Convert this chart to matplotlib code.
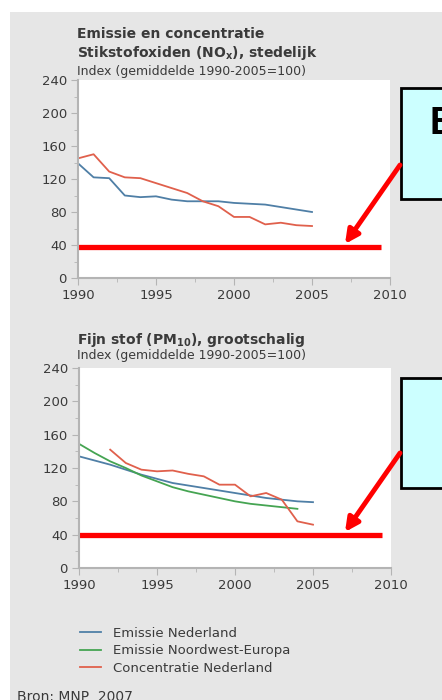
import numpy as np
import matplotlib.pyplot as plt
from matplotlib.patches import Rectangle, FancyArrowPatch
from matplotlib.ticker import MultipleLocator

plt.rcParams['font.family'] = ['DejaVu Sans']

W, H = 442, 700

# NOx, urban (index, 1990-2005 average = 100)
nox_years = np.arange(1990, 2006)
nox_emission_nl = [139, 122, 121, 100, 98, 99, 95, 93, 93, 93, 91, 90, 89, 86, 83, 80]
nox_conc_nl = [145, 150, 129, 122, 121, 115, 109, 103, 93, 87, 74, 74, 65, 67, 64, 63]

# PM10, large scale
pm_years_nl = np.arange(1990, 2006)
pm_emission_nl = [134, 129, 124, 118, 112, 107, 102, 99, 96, 93, 90, 87, 84, 82, 80, 79]
pm_years_nwe = np.arange(1990, 2005)
pm_emission_nwe = [149, 138, 128, 120, 111, 104, 97, 92, 88, 84, 80, 77, 75, 73, 71]
pm_years_conc = np.arange(1992, 2006)
pm_conc_nl = [142, 126, 118, 116, 117, 113, 110, 100, 100, 86, 90, 82, 56, 52]

legend_labels = ['Emissie Nederland', 'Emissie Noordwest-Europa', 'Concentratie Nederland']
c_blue, c_green, c_red = '#4f7fa6', '#45a452', '#e0604c'
txt = '#3a3a3a'


def fx(px):
    return px / W


def fy(py):
    return 1 - py / H


def make_axes(left, top, right, bottom):
    ax = fig.add_axes([fx(left), fy(bottom), fx(right - left), (bottom - top) / H])
    ax.set_xlim(1990, 2010)
    ax.set_ylim(0, 240)
    ax.xaxis.set_major_locator(MultipleLocator(5))
    ax.xaxis.set_minor_locator(MultipleLocator(2.5))
    ax.yaxis.set_major_locator(MultipleLocator(40))
    ax.yaxis.set_minor_locator(MultipleLocator(20))
    for s in ['top', 'right']:
        ax.spines[s].set_visible(False)
    for s in ['left', 'bottom']:
        ax.spines[s].set_color('#b4b4b4')
        ax.spines[s].set_linewidth(1.5)
    ax.tick_params(which='both', direction='out', color='#b4b4b4', labelsize=9.5,
                   labelcolor=txt)
    ax.tick_params(which='major', length=5, pad=3)
    ax.tick_params(which='minor', length=3)
    ax.set_facecolor('white')
    return ax


fig = plt.figure(figsize=(W / 100, H / 100), dpi=100)
fig.patch.set_facecolor('white')
fig.add_artist(Rectangle((fx(10), 0), fx(W - 10), 1 - 12 / H, transform=fig.transFigure,
                         facecolor='#e6e6e6', edgecolor='none', zorder=0))

# top chart
ax1 = make_axes(78, 80, 390, 278)
ax1.plot(nox_years, nox_emission_nl, color=c_blue, lw=1.3)
ax1.plot(nox_years, nox_conc_nl, color=c_red, lw=1.3)
ax1.hlines(37, 1990, 2009.4, color='#ff0000', lw=3.8)

fig.text(fx(77), fy(34), 'Emissie en concentratie', fontsize=10, fontweight='bold',
         color=txt, va='center')
fig.text(fx(77), fy(53), 'Stikstofoxiden (NO$_\\mathbf{x}$), stedelijk', fontsize=10,
         fontweight='bold', color=txt, va='center')
fig.text(fx(77), fy(72), 'Index (gemiddelde 1990-2005=100)', fontsize=9, color=txt,
         va='center')

# bottom chart
ax2 = make_axes(79, 368, 391, 568)
l1, = ax2.plot(pm_years_nl, pm_emission_nl, color=c_blue, lw=1.3)
l2, = ax2.plot(pm_years_nwe, pm_emission_nwe, color=c_green, lw=1.3)
l3, = ax2.plot(pm_years_conc, pm_conc_nl, color=c_red, lw=1.3)
ax2.hlines(40, 1990, 2009.4, color='#ff0000', lw=3.8)

fig.text(fx(77), fy(340), 'Fijn stof (PM$_\\mathbf{10}$), grootschalig', fontsize=10,
         fontweight='bold', color=txt, va='center')
fig.text(fx(77), fy(356), 'Index (gemiddelde 1990-2005=100)', fontsize=9, color=txt,
         va='center')

fig.legend([l1, l2, l3], legend_labels, loc='upper left',
           bbox_to_anchor=(fx(68), fy(615)), frameon=False, fontsize=9.5,
           labelcolor=txt, handlelength=1.6, handletextpad=0.9, labelspacing=0.35)

fig.text(fx(17), fy(697), 'Bron: MNP, 2007', fontsize=10, color=txt, va='center')

# annotation boxes and arrows
for top, bottom in [(88, 199), (378, 488)]:
    fig.add_artist(Rectangle((fx(401), fy(bottom)), fx(60), (bottom - top) / H,
                             transform=fig.transFigure, facecolor='#ccffff',
                             edgecolor='black', lw=2, zorder=5))
fig.text(fx(429), fy(106), 'E', fontsize=27, fontweight='bold', color='black',
         va='top', ha='left', zorder=6, family='Liberation Sans')

for start, tip in [((400, 165), (345, 244)), ((400, 453), (345, 532))]:
    fig.add_artist(FancyArrowPatch((fx(start[0]), fy(start[1])), (fx(tip[0]), fy(tip[1])),
                                   transform=fig.transFigure, arrowstyle='-|>',
                                   color='#ff0000', lw=3.5, mutation_scale=20,
                                   shrinkA=0, shrinkB=0, zorder=7))

fig.savefig('out.png', dpi=100)
